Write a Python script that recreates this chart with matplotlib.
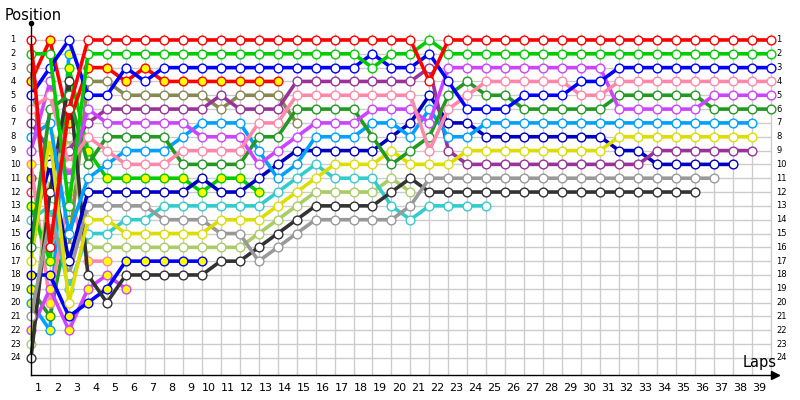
import matplotlib.pyplot as plt

# Race position chart: position per lap (index 0 = grid, then laps 1..39)
laps = list(range(1, 40))
positions = list(range(1, 25))

red_w = [1, 16, 6, 1, 1, 1, 1, 1, 1, 1, 1, 1, 1, 1, 1, 1, 1, 1, 1, 1, 1, 4, 1, 1, 1, 1, 1, 1, 1, 1, 1, 1, 1, 1, 1, 1, 1, 1, 1, 1]
green_w = [2, 2, 13, 2, 2, 2, 2, 2, 2, 2, 2, 2, 2, 2, 2, 2, 2, 2, 3, 2, 2, 1, 2, 2, 2, 2, 2, 2, 2, 2, 2, 2, 2, 2, 2, 2, 2, 2, 2, 2]
blue_w = [5, 3, 1, 5, 5, 3, 4, 3, 3, 3, 3, 3, 3, 3, 3, 3, 3, 3, 2, 3, 3, 2, 4, 6, 6, 6, 5, 5, 5, 4, 4, 3, 3, 3, 3, 3, 3, 3, 3, 3]
pink_w = [6, 5, 10, 8, 9, 10, 10, 10, 9, 9, 9, 9, 7, 7, 5, 5, 5, 5, 5, 5, 5, 9, 6, 5, 4, 4, 4, 4, 4, 5, 5, 4, 4, 4, 4, 4, 4, 4, 4, 4]
violet_w = [9, 4, 11, 6, 7, 7, 7, 7, 7, 8, 8, 8, 10, 9, 8, 7, 7, 7, 6, 6, 6, 7, 3, 3, 3, 3, 3, 3, 3, 3, 3, 6, 6, 6, 6, 6, 5, 5, 5, 5]
dkgreen_w = [16, 6, 5, 10, 8, 8, 8, 8, 10, 10, 10, 10, 8, 8, 6, 6, 6, 6, 8, 10, 9, 8, 5, 4, 5, 5, 6, 6, 6, 6, 6, 5, 5, 5, 5, 5, 6, 6, 6, 6]
skyblue_w = [8, 7, 15, 11, 10, 9, 9, 9, 8, 7, 7, 7, 9, 11, 10, 8, 8, 8, 7, 7, 8, 6, 8, 8, 7, 7, 7, 7, 7, 7, 7, 7, 7, 7, 7, 7, 7, 7, 7]
yellow_w = [17, 8, 20, 14, 14, 15, 15, 15, 15, 15, 14, 14, 14, 13, 12, 11, 10, 10, 10, 9, 10, 10, 10, 9, 9, 9, 9, 9, 9, 9, 9, 8, 8, 8, 8, 8, 8, 8, 8]
purple_w = [7, 9, 9, 7, 6, 6, 6, 6, 6, 6, 5, 6, 6, 6, 4, 4, 4, 4, 4, 4, 4, 3, 9, 10, 10, 10, 10, 10, 10, 10, 10, 10, 10, 9, 9, 9, 9, 9, 9]
dkblue_w = [15, 10, 17, 12, 12, 12, 12, 12, 12, 11, 12, 12, 11, 10, 9, 9, 9, 9, 9, 8, 7, 5, 7, 7, 8, 8, 8, 8, 8, 8, 8, 9, 9, 10, 10, 10, 10, 10]
gray_w = [21, 14, 18, 13, 13, 13, 13, 14, 14, 14, 15, 15, 17, 16, 15, 14, 14, 14, 14, 14, 13, 11, 11, 11, 11, 11, 11, 11, 11, 11, 11, 11, 11, 11, 11, 11, 11]
black_w = [24, 12, 4, 18, 20, 18, 18, 18, 18, 18, 17, 17, 16, 15, 14, 13, 13, 13, 13, 12, 11, 12, 12, 12, 12, 12, 12, 12, 12, 12, 12, 12, 12, 12, 12, 12]
cyan_w = [14, 13, 19, 15, 15, 14, 14, 13, 13, 13, 13, 13, 13, 12, 11, 10, 11, 11, 11, 13, 14, 13, 13, 13, 13]
ltolive_w = [23, 11, 8, 16, 16, 16, 16, 16, 16, 16, 16, 16, 15, 14, 13, 12, 12, 12, 12, 11, 12]
olive_w = [3, 15, 16, 4, 4, 5, 5, 5, 5, 5, 6, 5, 5, 5, 7]
red_y = [4, 1, 7, 3, 3, 4, 3, 4, 4, 4, 4, 4, 4, 4]
lime_y = [13, 17, 3, 9, 11, 11, 11, 11, 11, 12, 11, 11, 12]
blue_y = [18, 18, 21, 20, 19, 17, 17, 17, 17, 17]
violet_y = [22, 19, 22, 19, 18, 19]
pink_y = [10, 20, 12, 17, 17]
dkgreen_y = [19, 21, 14]
skyblue_y = [20, 22, 2]
grid_only_a = [11]
grid_only_b = [12]

# (positions, line colour, marker fill) - drawn first to last
drivers = [
    (grid_only_a, '#555555', '#ffff00'),
    (grid_only_b, '#ff3333', 'white'),
    (skyblue_y, '#00a0ff', '#ffff00'),
    (dkgreen_y, '#229922', '#ffff00'),
    (pink_y, '#ff88aa', '#ffff00'),
    (violet_y, '#cc44ff', '#ffff00'),
    (blue_y, '#0000ff', '#ffff00'),
    (lime_y, '#00cc00', '#ffff00'),
    (red_y, '#ff0000', '#ffff00'),
    (olive_w, '#888855', 'white'),
    (ltolive_w, '#aacc66', 'white'),
    (cyan_w, '#33cccc', 'white'),
    (black_w, '#333333', 'white'),
    (gray_w, '#999999', 'white'),
    (dkblue_w, '#0000c0', 'white'),
    (purple_w, '#993399', 'white'),
    (yellow_w, '#dddd00', 'white'),
    (skyblue_w, '#00a0ff', 'white'),
    (dkgreen_w, '#229922', 'white'),
    (violet_w, '#cc44ff', 'white'),
    (pink_w, '#ff88aa', 'white'),
    (blue_w, '#0000ff', 'white'),
    (green_w, '#00cc00', 'white'),
    (red_w, '#ff0000', 'white'),
]

fig = plt.figure(figsize=(8, 4), dpi=100)
ax = fig.add_axes([31 / 800, 1 - 375.2 / 400, 746.5 / 800, 353.2 / 400])
ax.set_xlim(0, 39.35)
ax.set_ylim(25.25, -0.3)

# grid
ax.hlines(positions, 0, 39, color='#cccccc', lw=1, zorder=0)
ax.vlines(laps, 0.5, 25.25, color='#cccccc', lw=1, zorder=0)

for pos, color, fill in drivers:
    ax.plot(range(len(pos)), pos, color=color, lw=2.6, marker='o', ms=6.3,
            mfc=fill, mec=color, mew=1, zorder=2, clip_on=False)

# axes: only left and bottom, with arrow ends
for side in ['top', 'right']:
    ax.spines[side].set_visible(False)
ax.spines['left'].set_linewidth(1)
ax.spines['bottom'].set_linewidth(1)
ax.set_xticks([])
ax.set_yticks([])
ax.plot([0], [-0.2], marker='o', ms=3, color='black', clip_on=False)
ax.plot([39.2], [25.25], marker='>', ms=6, color='black', clip_on=False)

# tick labels
for k in laps:
    ax.text(k - 0.6, 26.15, str(k), ha='center', va='center', fontsize=8, clip_on=False)
for p in positions:
    ax.text(-1.1, p, str(p), ha='left', va='center', fontsize=6, clip_on=False)
    ax.text(39.3, p, str(p), ha='left', va='center', fontsize=6, clip_on=False)

fig.text(5 / 800, 1 - 15 / 400, 'Position', fontsize=10.5, va='center')
fig.text(743 / 800, 1 - 363 / 400, 'Laps', fontsize=10.5, va='center')

fig.savefig('out.png', dpi=100)
